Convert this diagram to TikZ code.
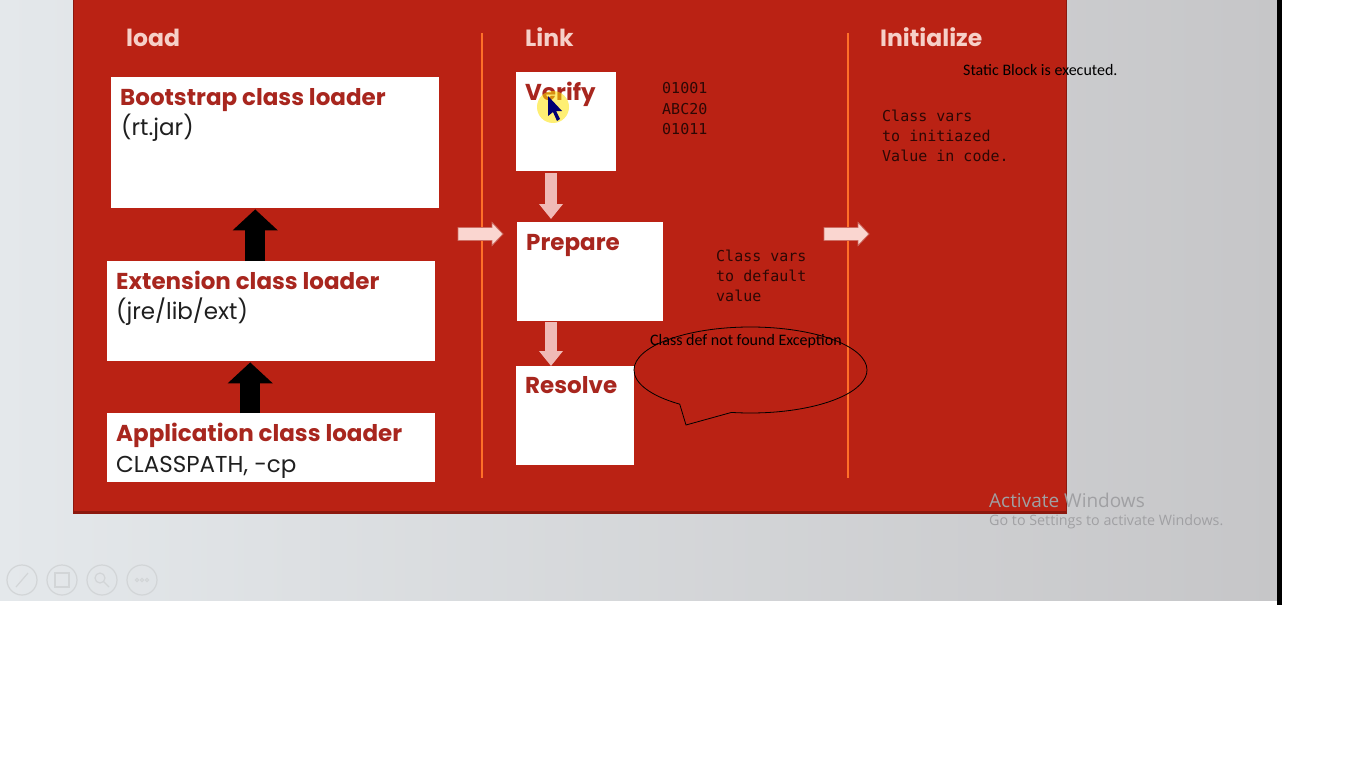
\documentclass[tikz,border=0pt]{standalone}
\usepackage{fontspec}
\setmainfont{Poppins}
\newfontfamily\monofont{DejaVu Sans Mono}
\newfontfamily\calfont{Carlito}
\newfontfamily\winfont{Open Sans}
\usetikzlibrary{arrows.meta,shapes.callouts,calc}
\definecolor{panelred}{RGB}{186,34,20}
\definecolor{paneldark}{RGB}{140,24,14}
\definecolor{titlered}{RGB}{168,38,30}
\definecolor{headpink}{RGB}{246,208,200}
\definecolor{lineorange}{RGB}{255,112,40}
\definecolor{monocol}{RGB}{45,8,5}
\definecolor{pinkfill}{RGB}{250,214,208}
\definecolor{pinkedge}{RGB}{205,110,100}
\definecolor{pinkdown}{RGB}{240,186,182}
\definecolor{bgleft}{RGB}{228,232,235}
\definecolor{bgright}{RGB}{198,198,200}
\definecolor{wingray}{RGB}{160,160,163}
\definecolor{icongray}{RGB}{210,213,215}
\begin{document}
\begin{tikzpicture}[x=1pt,y=-1pt,
  box/.style={draw=none,fill=white,rectangle,inner sep=0pt,anchor=north west},
  head/.style={anchor=base west,inner sep=0pt,text=headpink,font=\fontsize{23.5}{28}\selectfont\bfseries},
  btitle/.style={anchor=base west,inner sep=0pt,text=titlered,font=\fontsize{23}{27}\selectfont\bfseries},
  bbody/.style={anchor=base west,inner sep=0pt,text=black!88,font=\fontsize{23}{26}\selectfont},
  mono/.style={anchor=base west,inner sep=0pt,text=monocol,align=left,font=\fontsize{15}{20}\selectfont\monofont},
  blk/.style={draw=black,line width=20pt,-{Triangle[width=44pt,length=21pt]}},
  pdown/.style={draw=pinkdown,line width=12pt,-{Triangle[width=23pt,length=15pt]}},
  pright/.style={draw=pinkedge,fill=pinkfill,line width=0.8pt,line join=miter},
  vline/.style={draw=lineorange,line width=2pt},
  note/.style={inner sep=0pt,text=black,font=\calfont}
]
\useasboundingbox (0,0) rectangle (1366,768);
% background
\fill[white] (0,0) rectangle (1366,768);
\shade[left color=bgleft,right color=bgright] (0,0) rectangle (1277,600);
\fill[black] (1277,0) rectangle (1282,605);
% panel
\fill[paneldark] (73,0) rectangle (1067,514);
\fill[panelred] (74,0) rectangle (1066,511);
% faint icons
\foreach \cx in {22,62,102,142} {\draw[icongray,line width=1.2pt] (\cx,580) circle (15);}
\draw[icongray,line width=1.2pt] (16,587) -- (28,573);
\draw[icongray,line width=1.2pt] (55,573) rectangle (69,587);
\draw[icongray,line width=1.2pt] (100,578) circle (5) (104,582) -- (109,587);
\foreach \dx in {-5,0,5} {\draw[icongray,line width=1pt] (142+\dx,580) circle (1.6);}
% dividers
\draw[vline] (481.5,33) -- (481.5,478);
\draw[vline] (847.5,33) -- (847.5,478);
% headers
\node[head] (hload) at (126,47) {load};
\node[head] (hlink) at (525,47) {Link};
\node[head] (hinit) at (880,47) {Initialize};
% load column
\node[box,minimum width=328pt,minimum height=131pt] (boot) at (111,77) {};
\node[box,minimum width=328pt,minimum height=100pt] (ext) at (107,261) {};
\node[box,minimum width=328pt,minimum height=69pt] (app) at (107,413) {};
\node[btitle] (tboot) at (120,105) {Bootstrap class loader};
\node[bbody] (bboot) at (121,135) {(rt.jar)};
\node[btitle] (text) at (116,289) {Extension class loader};
\node[bbody] (bext) at (116,319) {(jre/lib/ext)};
\node[btitle] (tapp) at (116,441) {Application class loader};
\node[bbody] (bapp) at (116,472) {CLASSPATH, -cp};
\draw[blk] ($(ext.north)+(-16,0)$) -- ($(boot.south)+(-20,1)$);
\draw[blk] ($(app.north)+(-21,0)$) -- ($(ext.south)+(-21,1)$);
% link column
\node[box,minimum width=100pt,minimum height=99pt] (verify) at (516,72) {};
\node[box,minimum width=146pt,minimum height=99pt] (prepare) at (517,222) {};
\node[box,minimum width=118pt,minimum height=99pt] (resolve) at (516,366) {};
\node[btitle] (tverify) at (525,100) {Verify};
\node[btitle] (tprepare) at (526,250) {Prepare};
\node[btitle] (tresolve) at (525,393) {Resolve};
\draw[pdown] ($(verify.south west)+(35,2)$) -- ($(prepare.north west)+(34,-3)$);
\draw[pdown] ($(prepare.south west)+(34,1)$) -- ($(resolve.north west)+(35,0)$);
% cursor highlight
\fill[yellow!85!orange,opacity=0.55] (553,107) circle (16);
\fill[blue!45!black] (548,96) -- (548,116) -- (553,112) -- (557,121) -- (560,119) -- (556,111) -- (562,111) -- cycle;
% pink right arrows between the columns
\coordinate (in1) at (480.5,234);
\coordinate (in2) at (846.5,234);
\foreach \c in {in1,in2} {
  \draw[pright] ($(\c)+(-22.5,-6.5)$) -- ++(34,0) -- ++(0,-5) -- ++(11,11.5) -- ++(-11,11.5) -- ++(0,-5) -- ++(-34,0) -- cycle;
}
% mono notes (anchored at the baseline of the last line)
\node[mono] (bits) at (662,134) {01001\\ABC20\\01011};
\node[mono] (defv) at (716,301) {Class vars\\to default\\value};
\node[mono] (initv) at (882,161) {Class vars\\to initiazed\\Value in code.};
% annotations
\node[note,anchor=west,font=\calfont\fontsize{16}{18}\selectfont] (static) at (963,70) {Static Block is executed.};
\node[ellipse callout,draw=black,line width=0.8pt,minimum width=233pt,minimum height=86pt,inner sep=0pt,callout absolute pointer={(686,425)},callout pointer arc=28] (bubble) at (750.5,370) {};
\node[note,font=\calfont\fontsize{16}{18}\selectfont] (exc) at (746,341) {Class def not found Exception};
% watermark
\node[anchor=west,inner sep=0pt,text=wingray,font=\winfont\fontsize{19}{22}\selectfont] (act1) at (989,500) {Activate Windows};
\node[anchor=west,inner sep=0pt,text=wingray,font=\winfont\fontsize{14.3}{17}\selectfont] (act2) at (989,522) {Go to Settings to activate Windows.};
\end{tikzpicture}
\end{document}
